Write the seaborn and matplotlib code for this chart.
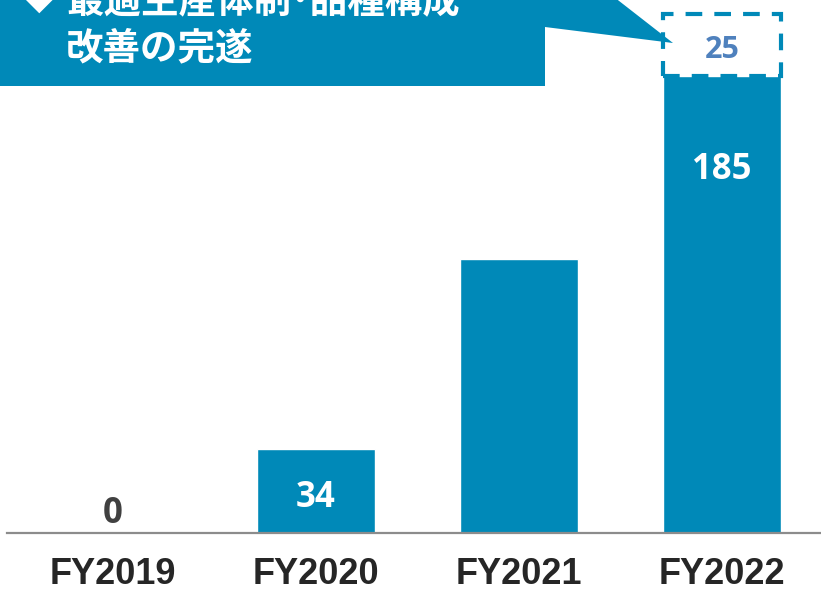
import matplotlib
matplotlib.use("Agg")
import matplotlib.pyplot as plt
from matplotlib.patches import Polygon
import seaborn as sns

# datos del grafico
years = ["FY2019", "FY2020", "FY2021", "FY2022"]
values = [0, 34, 111, 185]
labels = ["0", "34", "", "185"]
extra_value = 25          # tramo adicional (caja punteada) sobre FY2022
extra_label = "25"
callout_lines = ["最適生産体制･品種構成", "改善の完遂"]

bar_color = "#0089B8"
sns.set_theme(style="white")

fig = plt.figure(figsize=(8.21, 5.91), dpi=100)
ax = fig.add_axes([0, 58 / 591, 1, 533 / 591])

sns.barplot(x=years, y=values, color=bar_color, saturation=1, width=0.58, ax=ax)

# tramo punteado encima del ultimo anio
ax.bar(3, extra_value, bottom=values[3], width=0.58, facecolor="white",
       edgecolor=bar_color, linewidth=3, linestyle=(0, (4, 2.9)), zorder=3)

ax.set_xlim(-113 / 203, (821 - 113) / 203)
ax.set_ylim(0, 533 / 2.47)

# etiquetas de valores
for i, (v, lab) in enumerate(zip(values, labels)):
    if not lab:
        continue
    if v == 0:
        ax.text(i, 7.5, lab, ha="center", va="center", fontsize=25,
                fontweight="bold", family="Open Sans", color="#404040")
    elif v > 100:
        ax.text(i, v - 38, lab, ha="center", va="center", fontsize=25,
                fontweight="bold", family="Open Sans", color="white")
    else:
        ax.text(i, v * 0.42, lab, ha="center", va="center", fontsize=25,
                fontweight="bold", family="Open Sans", color="white")

ax.text(3, values[3] + extra_value * 0.42, extra_label, ha="center", va="center",
        fontsize=22, fontweight="bold", family="Open Sans", color="#4F81BD", zorder=4)

# ejes
for s in ["top", "left", "right"]:
    ax.spines[s].set_visible(False)
ax.spines["bottom"].set_color("#8C8C8C")
ax.spines["bottom"].set_linewidth(1.6)
ax.spines["bottom"].set_bounds(-0.522, 3.49)
ax.set_yticks([])
ax.set_xlabel("")
ax.set_ylabel("")
ax.tick_params(axis="x", length=0, pad=17)
for t in ax.get_xticklabels():
    t.set_family("Liberation Sans")
    t.set_fontweight("bold")
    t.set_fontsize(26)
    t.set_color("#262626")

# globo de texto arriba a la izquierda (coordenadas en pixeles)
ov = fig.add_axes([0, 0, 1, 1], zorder=5)
ov.set_xlim(0, 821)
ov.set_ylim(591, 0)
ov.axis("off")
ov.patch.set_alpha(0)
shape = Polygon([(0, -10), (605, -10), (673, 43), (545, 27), (545, 86), (0, 86)],
                closed=True, facecolor=bar_color, edgecolor="none")
ov.add_patch(shape)
cjk = ["Noto Sans CJK JP", "DejaVu Sans"]
ov.text(39, 1, "◆", ha="center", va="center", fontsize=22, color="white", family=cjk)
ov.text(66, 1, callout_lines[0], ha="left", va="center", fontsize=27,
        fontweight="bold", color="white", family=cjk)
ov.text(66, 48, callout_lines[1], ha="left", va="center", fontsize=27,
        fontweight="bold", color="white", family=cjk)

fig.savefig("out.png", dpi=100)
